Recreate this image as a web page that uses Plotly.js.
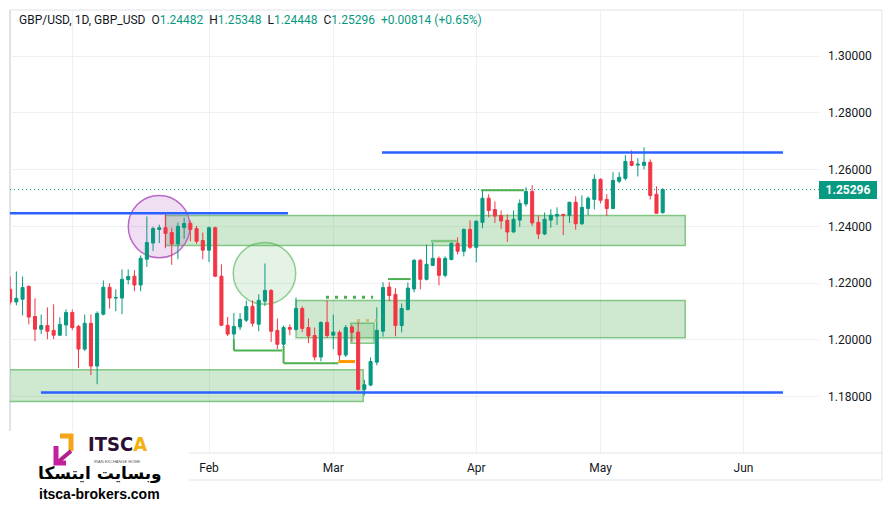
<!DOCTYPE html>
<html><head><meta charset="utf-8">
<script src="https://cdn.plot.ly/plotly-3.0.1.min.js"></script>
<style>html,body{margin:0;padding:0;background:#fff;}#chart{width:893px;height:516px;}</style>
</head><body><div id="chart"></div>
<script>
// ---- data (GBP/USD daily) ----
const dates = [
'2022-12-19','2022-12-20','2022-12-21','2022-12-22','2022-12-23','2022-12-26','2022-12-27','2022-12-28','2022-12-29','2022-12-30',
'2023-01-02','2023-01-03','2023-01-04','2023-01-05','2023-01-06','2023-01-09','2023-01-10','2023-01-11','2023-01-12','2023-01-13',
'2023-01-16','2023-01-17','2023-01-18','2023-01-19','2023-01-20','2023-01-23','2023-01-24','2023-01-25','2023-01-26','2023-01-27',
'2023-01-30','2023-01-31','2023-02-01','2023-02-02','2023-02-03','2023-02-06','2023-02-07','2023-02-08','2023-02-09','2023-02-10',
'2023-02-13','2023-02-14','2023-02-15','2023-02-16','2023-02-17','2023-02-20','2023-02-21','2023-02-22','2023-02-23','2023-02-24',
'2023-02-27','2023-02-28','2023-03-01','2023-03-02','2023-03-03','2023-03-06','2023-03-07','2023-03-08','2023-03-09','2023-03-10',
'2023-03-13','2023-03-14','2023-03-15','2023-03-16','2023-03-17','2023-03-20','2023-03-21','2023-03-22','2023-03-23','2023-03-24',
'2023-03-27','2023-03-28','2023-03-29','2023-03-30','2023-03-31','2023-04-03','2023-04-04','2023-04-05','2023-04-06','2023-04-07',
'2023-04-10','2023-04-11','2023-04-12','2023-04-13','2023-04-14','2023-04-17','2023-04-18','2023-04-19','2023-04-20','2023-04-21',
'2023-04-24','2023-04-25','2023-04-26','2023-04-27','2023-04-28','2023-05-01','2023-05-02','2023-05-03','2023-05-04','2023-05-05',
'2023-05-08','2023-05-09','2023-05-10','2023-05-11','2023-05-12','2023-05-15'];
const opens = [
1.2178,1.2133,1.2143,1.2188,1.2082,1.2037,1.2050,1.2033,1.2016,1.2052,
1.2096,1.2047,1.1967,1.2058,1.1907,1.2090,1.2185,1.2147,1.2147,1.2212,
1.2224,1.2193,1.2284,1.2341,1.2389,1.2395,1.2378,1.2338,1.2396,1.2410,
1.2392,1.2350,1.2316,1.2395,1.2224,1.2051,1.2020,1.2045,1.2069,1.2118,
1.2055,1.2136,1.2174,1.2033,1.1984,1.2043,1.2036,1.2110,1.2043,1.2015,
1.1939,1.2061,1.2016,1.2026,1.1946,1.2045,1.2027,1.1825,1.1840,1.1921,
1.2030,1.2186,1.2160,1.2050,1.2107,1.2179,1.2280,1.2213,1.2262,1.2287,
1.2227,1.2283,1.2340,1.2312,1.2389,1.2326,1.2414,1.2499,1.2459,1.2438,
1.2421,1.2380,1.2422,1.2479,1.2523,1.2414,1.2373,1.2422,1.2436,1.2442,
1.2439,1.2485,1.2409,1.2463,1.2495,1.2566,1.2495,1.2463,1.2559,1.2569,
1.2629,1.2616,1.2615,1.2626,1.2513,1.24482];
const highs = [
1.2223,1.2241,1.2223,1.2192,1.2146,1.2089,1.2114,1.2125,1.2079,1.2107,
1.2107,1.2052,1.2089,1.2089,1.2100,1.2209,1.2199,1.2178,1.2248,1.2248,
1.2245,1.2297,1.2435,1.2399,1.2406,1.2449,1.2395,1.2413,1.2431,1.2420,
1.2402,1.2378,1.2399,1.2399,1.2266,1.2080,1.2094,1.2094,1.2138,1.2139,
1.2160,1.2269,1.2178,1.2075,1.2050,1.2054,1.2149,1.2118,1.2075,1.2043,
1.2065,1.2139,1.2089,1.2033,1.2052,1.2052,1.2065,1.1859,1.1938,1.2114,
1.2203,1.2203,1.2182,1.2128,1.2202,1.2285,1.2285,1.2336,1.2343,1.2294,
1.2294,1.2351,1.2361,1.2393,1.2421,1.2421,1.2527,1.2513,1.2488,1.2456,
1.2442,1.2456,1.2495,1.2538,1.2545,1.2438,1.2449,1.2460,1.2467,1.2443,
1.2485,1.2506,1.2509,1.2506,1.2583,1.2569,1.2513,1.2591,1.2591,1.2651,
1.2668,1.2640,1.2679,1.2636,1.2541,1.25348];
const lows = [
1.2124,1.2121,1.2086,1.2054,1.1995,1.2020,1.2002,1.2002,1.2013,1.2013,
1.2034,1.1900,1.1960,1.1875,1.1843,1.2086,1.2110,1.2101,1.2090,1.2195,
1.2171,1.2171,1.2257,1.2313,1.2341,1.2323,1.2264,1.2284,1.2356,1.2347,
1.2338,1.2284,1.2274,1.2221,1.2048,1.2013,1.2002,1.2034,1.2062,1.2047,
1.2030,1.2119,1.1992,1.1967,1.1978,1.2016,1.2033,1.2027,1.1988,1.1927,
1.1924,1.2006,1.1967,1.1928,1.1939,1.1992,1.1821,1.1803,1.1836,1.1910,
1.2011,1.2136,1.2012,1.2026,1.2103,1.2167,1.2178,1.2209,1.2262,1.2192,
1.2220,1.2280,1.2301,1.2294,1.2320,1.2273,1.2393,1.2432,1.2412,1.2391,
1.2345,1.2378,1.2398,1.2470,1.2401,1.2355,1.2369,1.2395,1.2405,1.2369,
1.2412,1.2388,1.2405,1.2439,1.2460,1.2481,1.2436,1.2460,1.2552,1.2562,
1.2612,1.2576,1.2601,1.2495,1.2446,1.24448];
const closes = [
1.2133,1.2146,1.2184,1.2080,1.2037,1.2050,1.2030,1.2016,1.2054,1.2096,
1.2043,1.1967,1.2058,1.1907,1.2093,1.2185,1.2147,1.2149,1.2213,1.2223,
1.2193,1.2287,1.2343,1.2392,1.2395,1.2375,1.2338,1.2400,1.2410,1.2389,
1.2347,1.2316,1.2395,1.2224,1.2051,1.2020,1.2047,1.2072,1.2117,1.2058,
1.2139,1.2174,1.2030,1.1984,1.2043,1.2037,1.2110,1.2040,1.2013,1.1939,
1.2061,1.2015,1.2027,1.1946,1.2043,1.2026,1.1825,1.1841,1.1923,1.2033,
1.2184,1.2156,1.2050,1.2110,1.2182,1.2280,1.2213,1.2266,1.2287,1.2227,
1.2287,1.2340,1.2312,1.2389,1.2326,1.2418,1.2499,1.2456,1.2436,1.2419,
1.2380,1.2425,1.2481,1.2523,1.2412,1.2373,1.2425,1.2439,1.2442,1.2439,
1.2485,1.2409,1.2467,1.2499,1.2566,1.2492,1.2463,1.2562,1.2573,1.2629,
1.2615,1.2619,1.2626,1.2509,1.2446,1.25296];
const yTickVals = [1.18, 1.20, 1.22, 1.24, 1.26, 1.28, 1.30];
const yTickText = ['1.18000','1.20000','1.22000','1.24000','1.26000','1.28000','1.30000'];
const xTickDates = ['2023-01-02','2023-02-01','2023-03-01','2023-04-03','2023-05-01','2023-06-01'];
const xTickText = ['','Feb','Mar','Apr','May','Jun'];
const lastPrice = 1.25296;
const headerParts = {symbol:'GBP/USD, 1D, GBP_USD', o:'1.24482', h:'1.25348', l:'1.24448', c:'1.25296', chg:'+0.00814 (+0.65%)'};

// ---- helpers ----
const NOON = d => d + ' 12:00';
const PX = px => (px - 10) / 809;   // pixel -> paper x
const PY = py => (453 - py) / 443;  // pixel -> paper y
const GREEN = '#089981', RED = '#F23645', BLUE = '#2962ff', DARK = '#131722';
const FONT = 'Roboto, "Open Sans", sans-serif';

function hline(x0, x1, y, color, width, layer, dash) {
  return {type:'line', xref:'x', yref:'y', x0:x0, x1:x1, y0:y, y1:y, layer:layer||'above',
          line:{color:color, width:width, dash:dash||'solid'}};
}
function vline(x, y0, y1, color, width) {
  return {type:'line', xref:'x', yref:'y', x0:x, x1:x, y0:y0, y1:y1, layer:'above', line:{color:color, width:width}};
}
function box(x0, x1, y0, y1, fill, lc) {
  return {type:'rect', xref:'x', yref:'y', x0:x0, x1:x1, y0:y0, y1:y1, layer:'between',
          fillcolor:fill, line:{color:lc, width:1.5}};
}
function pline(px0, py0, px1, py1, color, width, layer) {
  return {type:'line', xref:'paper', yref:'paper', x0:PX(px0), x1:PX(px1), y0:PY(py0), y1:PY(py1),
          layer:layer||'below', line:{color:color, width:width}};
}
function ppath(pts, color, width) {
  const d = pts.map((p,i)=>(i?'L':'M')+PX(p[0]).toFixed(5)+','+PY(p[1]).toFixed(5)).join(' ');
  return {type:'path', xref:'paper', yref:'paper', path:d, layer:'above', line:{color:color, width:width}};
}

const boxFill = 'rgba(76,175,80,0.27)', boxLine = 'rgba(76,175,80,0.65)';
const shapes = [
  // frame
  pline(10,10,882,10,'#e0e3eb',1), pline(10,10,10,480,'#d6d8de',1.5), pline(882,10,882,480,'#e0e3eb',1),
  pline(10,480,882,480,'#e0e3eb',1), pline(10,453,882,453,'#e0e3eb',1),
  // zones
  box('2022-12-01','2023-03-08 07:40',1.1782,1.1894,boxFill,boxLine),
  box('2023-01-23 12:00','2023-05-19 03:00',1.2332,1.2438,boxFill,boxLine),
  box('2023-02-21 12:00','2023-05-19 03:00',1.2007,1.2138,boxFill,boxLine),
  box('2023-03-06 08:00','2023-03-10 01:00',1.1988,1.2058,'rgba(76,175,80,0.2)',boxLine),
  {type:'circle', xref:'x', yref:'y', x0:'2023-01-13 12:15', x1:'2023-01-27 10:30', y0:1.2289, y1:1.2509,
   layer:'between', fillcolor:'rgba(156,39,176,0.15)', line:{color:'#ba68c8', width:1.5}},
  {type:'circle', xref:'x', yref:'y', x0:'2023-02-07 09:36', x1:'2023-02-21 10:48', y0:1.2125, y1:1.2343,
   layer:'between', fillcolor:'rgba(76,175,80,0.15)', line:{color:'rgba(76,175,80,0.6)', width:1.5}},
  // last price line
  {type:'line', xref:'paper', yref:'y', x0:0, x1:1, y0:lastPrice, y1:lastPrice, layer:'above',
   line:{color:GREEN, width:1, dash:'1px,3px'}},
  // trend lines
  hline('2022-12-01','2023-02-20 04:48',1.2446,BLUE,2.5),
  hline('2023-03-13 08:00','2023-06-09 20:24',1.2660,BLUE,2.5),
  hline('2022-12-26 11:00','2023-06-09 20:24',1.1814,BLUE,2.5),
  // step lines
  vline('2023-02-07 12:00',1.2002,1.1962,'#4caf50',2),
  hline('2023-02-07 12:00','2023-02-17 07:00',1.1962,'#4caf50',2),
  vline('2023-02-17 12:00',1.1978,1.1917,'#4caf50',2),
  hline('2023-02-17 12:00','2023-03-02 07:12',1.1917,'#4caf50',2),
  hline('2023-03-02 07:12','2023-03-06 23:45',1.1923,'#ff9800',3),
  hline('2023-03-14 07:12','2023-03-17 22:48',1.2214,'#4caf50',2),
  hline('2023-03-23 04:48','2023-03-29 08:24',1.2348,'#81c784',2.5),
  hline('2023-04-04 06:30','2023-04-13 04:20',1.2527,'#4caf50',2),
  hline('2023-02-28 07:40','2023-03-09 21:36',1.2150,'#4caf50',3,'above','3px,6px'),
  hline('2023-03-07 07:12','2023-03-10 12:00',1.2068,'rgba(200,180,90,0.8)',3,'above','3px,6px'),
  // logo background + icon
  {type:'rect', xref:'paper', yref:'paper', x0:PX(0), x1:PX(189), y0:PY(516), y1:PY(431), layer:'above',
   fillcolor:'#ffffff', line:{width:0}},
  ppath([[60,436],[71,436],[71,451]], '#f5a51c', 5),
  ppath([[71,451],[58,462]], '#b0208f', 4),
  ppath([[56,446],[56,463],[66,463]], '#c41f9e', 5),
];

const annotations = [
  {xref:'paper', yref:'paper', x:PX(17), y:PY(20), xanchor:'left', yanchor:'middle', showarrow:false,
   font:{family:FONT, size:12, color:DARK},
   text: headerParts.symbol + '&nbsp;&nbsp;O<span style="color:'+GREEN+'">'+headerParts.o+'</span>&nbsp;&nbsp;H<span style="color:'+GREEN+'">'+headerParts.h+
         '</span>&nbsp;&nbsp;L<span style="color:'+GREEN+'">'+headerParts.l+'</span>&nbsp;&nbsp;C<span style="color:'+GREEN+'">'+headerParts.c+
         '</span>&nbsp;&nbsp;<span style="color:'+GREEN+'">'+headerParts.chg+'</span>'},
  {xref:'paper', yref:'y', x:1, y:lastPrice, xanchor:'left', yanchor:'middle', showarrow:false,
   text:'<b>1.25296</b>', font:{family:FONT, size:12, color:'#ffffff'}, bgcolor:GREEN,
   width:56, height:16, borderpad:0, borderwidth:1, bordercolor:GREEN},
  // logo texts
  {xref:'paper', yref:'paper', x:PX(117), y:PY(444), xanchor:'center', yanchor:'middle', showarrow:false,
   text:'<b>ITSC<span style="color:#f2b10c">A</span></b>', font:{family:'"Liberation Sans Narrow","DejaVu Sans Condensed",sans-serif', size:20, color:'#2b0f33'}},
  {xref:'paper', yref:'paper', x:PX(117), y:PY(462), xanchor:'center', yanchor:'middle', showarrow:false,
   text:'IRAN EXCHANGE HOME', font:{family:'Liberation Sans', size:4, color:'#555'}},
  {xref:'paper', yref:'paper', x:PX(100), y:PY(473), xanchor:'center', yanchor:'middle', showarrow:false,
   text:'<b>وبسایت ایتسکا</b>', font:{family:'"DejaVu Sans",sans-serif', size:17, color:'#000'}},
  {xref:'paper', yref:'paper', x:PX(99), y:PY(494), xanchor:'center', yanchor:'middle', showarrow:false,
   text:'<b>itsca-brokers.com</b>', font:{family:'"Liberation Sans",sans-serif', size:14, color:'#000'}},
];

const trace = {
  type:'candlestick', x:dates.map(NOON), open:opens, high:highs, low:lows, close:closes,
  increasing:{line:{color:GREEN, width:1}, fillcolor:GREEN},
  decreasing:{line:{color:RED, width:1}, fillcolor:RED},
  whiskerwidth:0, hoverinfo:'skip', showlegend:false
};

const layout = {
  width:893, height:516, margin:{l:10, r:74, t:10, b:63},
  paper_bgcolor:'#ffffff', plot_bgcolor:'#ffffff', showlegend:false, hovermode:false,
  xaxis:{type:'date', range:['2022-12-19 11:30','2023-06-19 15:36'], rangebreaks:[{bounds:['sat','mon']}],
         tickvals:xTickDates.map(NOON), ticktext:xTickText, showgrid:true, gridcolor:'#eef0f3', gridwidth:1,
         zeroline:false, showline:false, ticks:'', ticklabelstandoff:6,
         tickfont:{family:FONT, size:12, color:DARK}, rangeslider:{visible:false}, fixedrange:true},
  yaxis:{side:'right', range:[1.16005,1.3163], tickvals:yTickVals, ticktext:yTickText, showgrid:true,
         gridcolor:'#eef0f3', gridwidth:1, zeroline:false, showline:false, ticks:'', ticklabelstandoff:8,
         tickfont:{family:FONT, size:12, color:DARK}, fixedrange:true},
  shapes:shapes, annotations:annotations
};
Plotly.newPlot('chart', [trace], layout, {staticPlot:true, displayModeBar:false});
</script></body></html>
